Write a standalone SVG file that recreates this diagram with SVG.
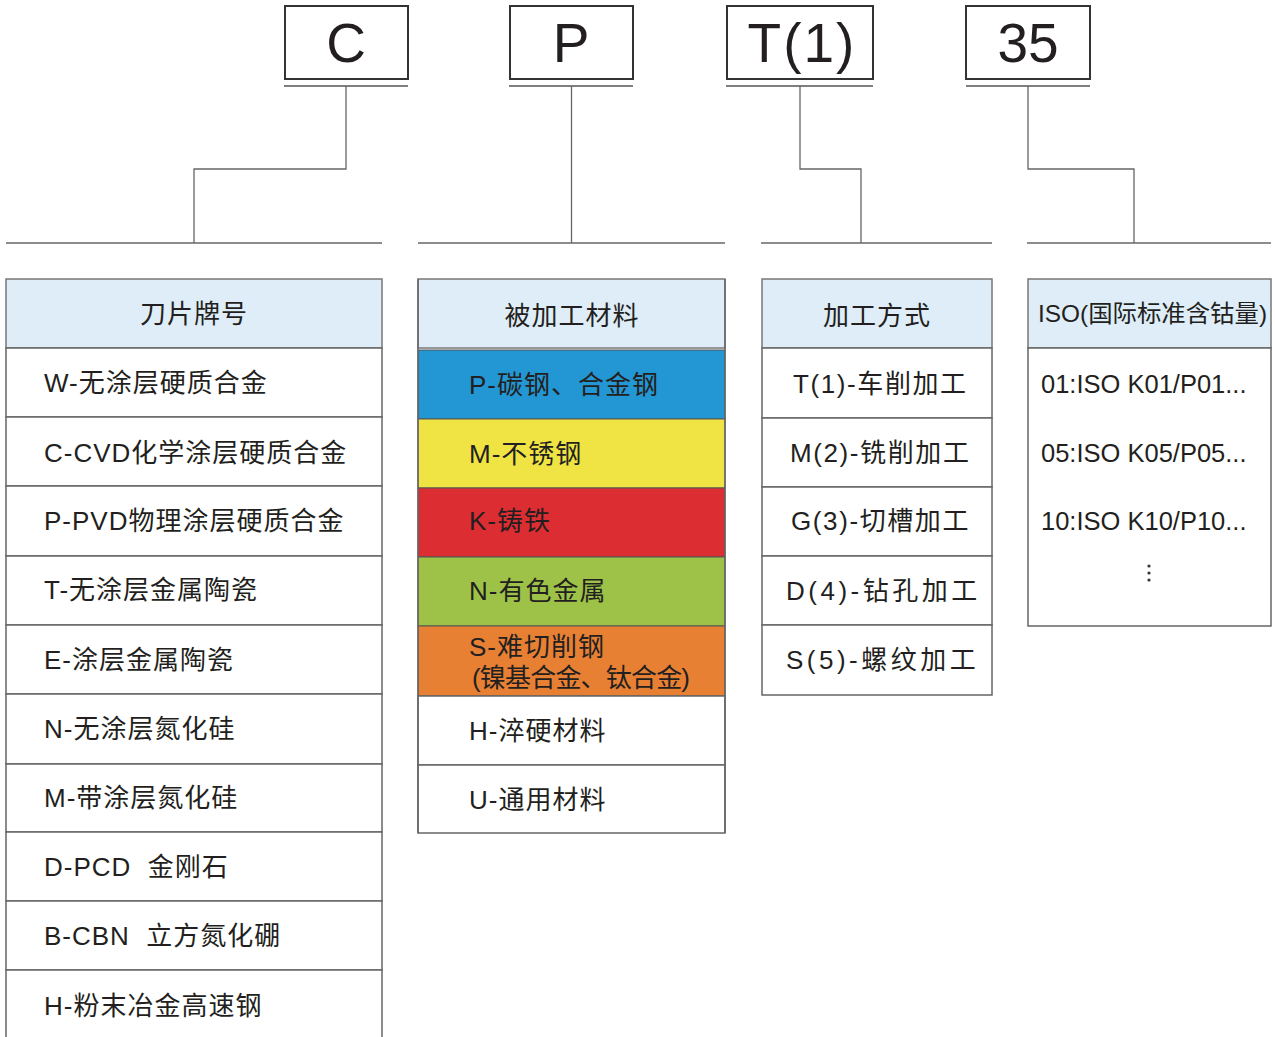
<svg xmlns="http://www.w3.org/2000/svg" width="1275" height="1037" viewBox="0 0 1275 1037">
<style>
text{font-family:"Liberation Sans","Noto Sans CJK SC",sans-serif;fill:#231f20;}
.big{font-size:55px;text-anchor:middle;}
.t{font-size:26px;letter-spacing:1px;}
.h{font-size:26px;text-anchor:middle;letter-spacing:1px;}
.box{fill:#fff;stroke:#333;stroke-width:2;}
.ul{stroke:#555;stroke-width:1.3;fill:none;}
.conn{stroke:#666;stroke-width:1.3;fill:none;}
.cell{fill:#fff;stroke:#666;stroke-width:1.5;}
.hdr{fill:#deedf7;stroke:#777;stroke-width:1.5;}
</style>
<rect width="1275" height="1037" fill="#fff"/>

<g id="code-C">
<rect class="box" x="285" y="6" width="123" height="73"/>
<text class="big" x="346" y="62">C</text>
<line class="ul" x1="284" y1="86" x2="408" y2="86"/>
</g>
<g id="code-P">
<rect class="box" x="510" y="6" width="123" height="73"/>
<text class="big" x="571" y="62">P</text>
<line class="ul" x1="509" y1="86" x2="633" y2="86"/>
</g>
<g id="code-T1">
<rect class="box" x="727" y="6" width="146" height="73"/>
<text class="big" x="802" y="62" style="letter-spacing:2px">T(1)</text>
<line class="ul" x1="726" y1="86" x2="873" y2="86"/>
</g>
<g id="code-35">
<rect class="box" x="966" y="6" width="124" height="73"/>
<text class="big" x="1028" y="62">35</text>
<line class="ul" x1="966" y1="86" x2="1090" y2="86"/>
</g>

<g id="connectors">
<path class="conn" d="M346,86 V169 H194 V243"/>
<path class="conn" d="M571.5,86 V243"/>
<path class="conn" d="M800,86 V169 H861 V243"/>
<path class="conn" d="M1028,86 V169 H1134 V243"/>
<line class="conn" x1="6" y1="243" x2="382" y2="243"/>
<line class="conn" x1="418" y1="243" x2="725" y2="243"/>
<line class="conn" x1="761" y1="243" x2="992" y2="243"/>
<line class="conn" x1="1027" y1="243" x2="1271" y2="243"/>
</g>

<g id="table-grade">
<rect class="hdr" x="6" y="279" width="376" height="69"/>
<text class="h" x="194" y="323">刀片牌号</text>
<rect class="cell" x="6" y="348" width="376" height="69"/>
<rect class="cell" x="6" y="417" width="376" height="69"/>
<rect class="cell" x="6" y="486" width="376" height="70"/>
<rect class="cell" x="6" y="556" width="376" height="69"/>
<rect class="cell" x="6" y="625" width="376" height="69"/>
<rect class="cell" x="6" y="694" width="376" height="70"/>
<rect class="cell" x="6" y="764" width="376" height="68"/>
<rect class="cell" x="6" y="832" width="376" height="69"/>
<rect class="cell" x="6" y="901" width="376" height="69"/>
<rect class="cell" x="6" y="970" width="376" height="80"/>
<text class="t" x="44" y="392">W-无涂层硬质合金</text>
<text class="t" x="44" y="462">C-CVD化学涂层硬质合金</text>
<text class="t" x="44" y="530">P-PVD物理涂层硬质合金</text>
<text class="t" x="44" y="599">T-无涂层金属陶瓷</text>
<text class="t" x="44" y="669">E-涂层金属陶瓷</text>
<text class="t" x="44" y="738">N-无涂层氮化硅</text>
<text class="t" x="44" y="807">M-带涂层氮化硅</text>
<text class="t" x="44" y="876" xml:space="preserve">D-PCD  金刚石</text>
<text class="t" x="44" y="945" xml:space="preserve">B-CBN  立方氮化硼</text>
<text class="t" x="44" y="1015">H-粉末冶金高速钢</text>
</g>

<g id="table-material">
<rect class="hdr" x="418" y="279" width="307" height="69"/>
<text class="h" x="572" y="325">被加工材料</text>
<rect x="418" y="350" width="307" height="69" fill="#2397d4" stroke="#555" stroke-width="1"/>
<rect x="418" y="419" width="307" height="69" fill="#f0e444" stroke="#555" stroke-width="1"/>
<rect x="418" y="488" width="307" height="69" fill="#dc2d32" stroke="#555" stroke-width="1"/>
<rect x="418" y="557" width="307" height="69" fill="#9dc247" stroke="#555" stroke-width="1"/>
<rect x="418" y="626" width="307" height="70" fill="#e88034" stroke="#555" stroke-width="1"/>
<rect class="cell" x="418" y="696" width="307" height="69"/>
<rect class="cell" x="418" y="765" width="307" height="68"/>
<line x1="418" y1="279" x2="418" y2="833" stroke="#666" stroke-width="1.5"/>
<line x1="725" y1="279" x2="725" y2="833" stroke="#666" stroke-width="1.5"/>
<text class="t" x="469" y="394">P-碳钢、合金钢</text>
<text class="t" x="469" y="463">M-不锈钢</text>
<text class="t" x="469" y="530">K-铸铁</text>
<text class="t" x="469" y="600">N-有色金属</text>
<text class="t" x="469" y="656">S-难切削钢</text>
<text class="t" x="472" y="687" style="letter-spacing:0" textLength="218" lengthAdjust="spacing">(镍基合金、钛合金)</text>
<text class="t" x="469" y="740">H-淬硬材料</text>
<text class="t" x="469" y="809">U-通用材料</text>
</g>

<g id="table-process">
<rect class="hdr" x="762" y="279" width="230" height="69"/>
<text class="h" x="877" y="325">加工方式</text>
<rect class="cell" x="762" y="348" width="230" height="70"/>
<rect class="cell" x="762" y="418" width="230" height="69"/>
<rect class="cell" x="762" y="487" width="230" height="69"/>
<rect class="cell" x="762" y="556" width="230" height="69"/>
<rect class="cell" x="762" y="625" width="230" height="70"/>
<text class="t" x="793" y="393" style="letter-spacing:1.6px">T(1)-车削加工</text>
<text class="t" x="790" y="462" style="letter-spacing:1.6px">M(2)-铣削加工</text>
<text class="t" x="791" y="530" style="letter-spacing:1.6px">G(3)-切槽加工</text>
<text class="t" x="786" y="600" style="letter-spacing:3.5px">D(4)-钻孔加工</text>
<text class="t" x="786" y="669" style="letter-spacing:3.5px">S(5)-螺纹加工</text>
</g>

<g id="table-iso">
<rect class="hdr" x="1028" y="279" width="243" height="69"/>
<text x="1038" y="322" font-size="24" textLength="229" lengthAdjust="spacingAndGlyphs">ISO(国际标准含钴量)</text>
<rect class="cell" x="1028" y="348" width="243" height="278"/>
<text x="1041" y="393" font-size="25.5">01:ISO K01/P01...</text>
<text x="1041" y="462" font-size="25.5">05:ISO K05/P05...</text>
<text x="1041" y="530" font-size="25.5">10:ISO K10/P10...</text>
<circle cx="1149" cy="566" r="1.6" fill="#333"/>
<circle cx="1149" cy="573" r="1.6" fill="#333"/>
<circle cx="1149" cy="580" r="1.6" fill="#333"/>
</g>
</svg>
